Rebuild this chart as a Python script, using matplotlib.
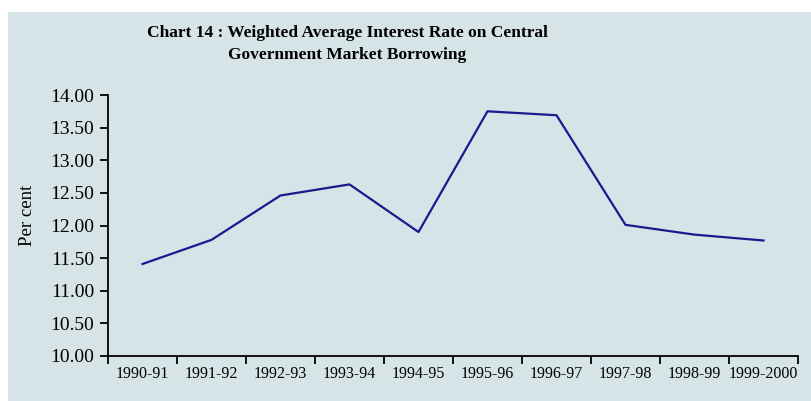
import numpy as np
import matplotlib
matplotlib.use('Agg')
import matplotlib.pyplot as plt
from matplotlib.patches import Rectangle

# Data
years = ['1990-91', '1991-92', '1992-93', '1993-94', '1994-95',
         '1995-96', '1996-97', '1997-98', '1998-99', '1999-2000']
rates = [11.41, 11.78, 12.46, 12.63, 11.90, 13.75, 13.69, 12.01, 11.86, 11.77]
yticks = [10.0, 10.5, 11.0, 11.5, 12.0, 12.5, 13.0, 13.5, 14.0]

plt.rcParams['font.family'] = ['Liberation Serif', 'DejaVu Serif']

fig = plt.figure(figsize=(8.11, 4.01), dpi=100)
fig.patch.set_facecolor('white')

# patterned light blue panel (drawn as flat colour), kept behind the axes
bg = Rectangle((8 / 811, 0), 1 - 8 / 811, 1 - 12 / 401, transform=fig.transFigure,
               facecolor='#d6e3e7', edgecolor='none', zorder=-10)
fig.patches.append(bg)

ax = fig.add_axes([108 / 811, 1 - 356 / 401, 690 / 811, 261 / 401])
ax.set_facecolor('none')

x = np.arange(len(years))
ax.plot(x, rates, color='#1a1a8e', linewidth=1.6)

ax.set_xlim(-0.5, len(years) - 0.5)
ax.set_ylim(10, 14)

# category boundary ticks, labels in between
ax.set_xticks(np.arange(len(years) + 1) - 0.5)
ax.set_xticklabels([])
ax.set_xticks(x, minor=True)
ax.set_xticklabels(years, minor=True, fontsize=11.5)
ax.tick_params(axis='x', which='major', direction='out', length=6, width=1.3)
ax.tick_params(axis='x', which='minor', length=0, pad=7)

ax.set_yticks(yticks)
ax.set_yticklabels([f'{v:.2f}' for v in yticks], fontsize=14)
ax.tick_params(axis='y', direction='out', length=6, width=1.3, pad=4)

for s in ['top', 'right']:
    ax.spines[s].set_visible(False)
for s in ['left', 'bottom']:
    ax.spines[s].set_linewidth(1.3)

fig.text(27 / 811, 1 - 215 / 401, 'Per cent', rotation=90, fontsize=13.5,
         ha='center', va='center')

fig.text(347 / 811, 1 - 33 / 401,
         'Chart 14 : Weighted Average Interest Rate on Central',
         fontsize=12.5, fontweight='bold', ha='center', va='center')
fig.text(347 / 811, 1 - 55 / 401, 'Government Market Borrowing',
         fontsize=12.5, fontweight='bold', ha='center', va='center')

fig.savefig('out.png', dpi=100)
